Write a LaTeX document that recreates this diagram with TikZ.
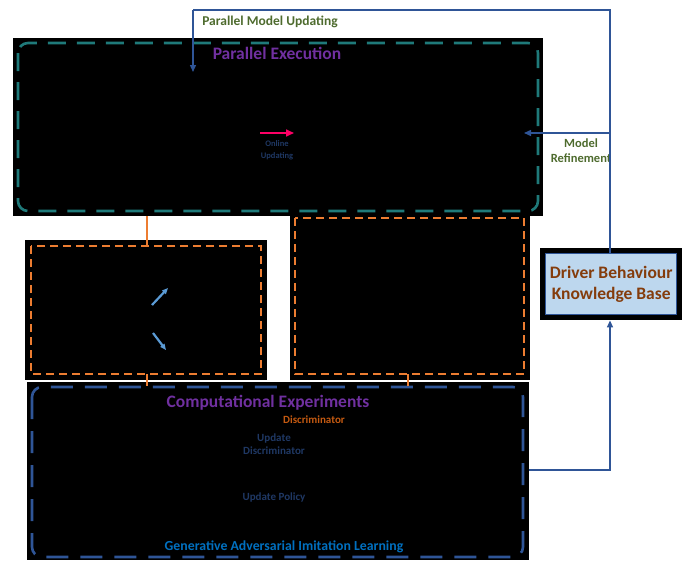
\documentclass[tikz,border=0pt]{standalone}
\usepackage{fontspec}
\setmainfont{Carlito}
\usetikzlibrary{arrows.meta}
\definecolor{tealc}{HTML}{1F7A7A}
\definecolor{orangec}{HTML}{ED7D31}
\definecolor{bluec}{HTML}{2F5597}
\definecolor{greenc}{HTML}{4E6B2E}
\definecolor{purplec}{HTML}{7030A0}
\definecolor{navyc}{HTML}{1F3864}
\definecolor{brownc}{HTML}{843C0C}
\definecolor{lblue}{HTML}{BDD7EE}
\definecolor{arrowblue}{HTML}{5B9BD5}
\definecolor{pinkc}{HTML}{FF0066}
\definecolor{darkorange}{HTML}{C55A11}
\definecolor{galblue}{HTML}{0070C0}
\tikzset{
  blackbox/.style={fill=black, draw=none},
  tealdash/.style={draw=tealc, line width=2.6pt, dash pattern=on 18pt off 11pt, rounded corners=10pt},
  orangedash/.style={draw=orangec, line width=1.3pt, dash pattern=on 8pt off 5pt},
  bluedash/.style={draw=bluec, line width=2.6pt, dash pattern=on 22pt off 12pt, rounded corners=10pt},
  flow/.style={draw=bluec, line width=1.4pt, -{Triangle[length=7pt,width=6pt]}},
  flowline/.style={draw=bluec, line width=1.4pt},
  otick/.style={draw=orangec, line width=1.2pt},
  lbl/.style={font=\bfseries, inner sep=0pt, align=center},
}
\begin{document}
\begin{tikzpicture}[x=1pt,y=-1pt]
\useasboundingbox (0,0) rectangle (683,560);
% black boxes
\node[blackbox, minimum width=530pt, minimum height=178pt, anchor=north west, inner sep=0pt] (pebox) at (13,38) {};
\node[blackbox, minimum width=242pt, minimum height=140pt, anchor=north west, inner sep=0pt] (lbox) at (25,240) {};
\node[blackbox, minimum width=240pt, minimum height=164pt, anchor=north west, inner sep=0pt] (rbox) at (290,216) {};
\node[blackbox, minimum width=502pt, minimum height=178pt, anchor=north west, inner sep=0pt] (cebox) at (27,382) {};
% dashed frames
\draw[tealdash] (18,43) rectangle (538,211);
\draw[orangedash] (31,246) rectangle (261,374);
\draw[orangedash] (295,218) rectangle (524,374);
\draw[bluedash] (32,387) rectangle (523,557);
% orange ticks
\coordinate (t1a) at (147,216);
\coordinate (t1b) at (147,246);
\draw[otick] (t1a) -- (t1b);
\coordinate (t2a) at (147,374);
\coordinate (t2b) at (147,386);
\draw[otick] (t2a) -- (t2b);
\coordinate (t3a) at (408,374);
\coordinate (t3b) at (408,386);
\draw[otick] (t3a) -- (t3b);
% driver box
\node[blackbox, minimum width=142pt, minimum height=72pt, anchor=north west, inner sep=0pt] (dbout) at (540,248) {};
\node[fill=lblue, draw=bluec, line width=0.8pt, minimum width=131pt, minimum height=61pt, inner sep=0pt, align=center, text=brownc, font=\fontsize{17.5}{21}\selectfont\bfseries] (kb) at (dbout.center) {Driver Behaviour\\Knowledge Base};
% titles
\node[lbl, text=purplec, font=\fontsize{17.5}{20}\selectfont\bfseries] (pet) at (277,53) {Parallel Execution};
\node[lbl, text=purplec, font=\fontsize{17.5}{20}\selectfont\bfseries] (cet) at (268,403) {Computational Experiments};
\node[lbl, text=darkorange, font=\fontsize{11}{13}\selectfont\bfseries] (disc) at (314,420) {Discriminator};
\node[lbl, text=navyc, font=\fontsize{11}{13}\selectfont\bfseries] (ud) at (274,444) {Update\\Discriminator};
\node[lbl, text=navyc, font=\fontsize{11}{13}\selectfont\bfseries] (up) at (274,497) {Update Policy};
\node[lbl, text=galblue, font=\fontsize{13.8}{16}\selectfont\bfseries] (gail) at (284,547) {Generative Adversarial Imitation Learning};
\node[lbl, text=navyc, font=\fontsize{8.5}{12}\selectfont\bfseries] (ou) at (277,150) {Online\\Updating};
\node[lbl, text=greenc, font=\fontsize{13.5}{15}\selectfont\bfseries] (pmu) at (270,22) {Parallel Model Updating};
\node[lbl, text=greenc, font=\fontsize{12.5}{15}\selectfont\bfseries] (mr) at (581,151) {Model\\Refinement};
% pink arrow
\coordinate (pa1) at (260,133);
\coordinate (pa2) at (294,133);
\draw[pinkc, line width=1.6pt, -{Triangle[length=8pt,width=7pt]}] (pa1) -- (pa2);
% light blue arrows
\coordinate (la1) at (152,305);
\coordinate (la2) at (168,288);
\coordinate (la3) at (153,333);
\coordinate (la4) at (166,350);
\draw[arrowblue, line width=2.2pt, -{Triangle[length=6pt,width=5pt]}] (la1) -- (la2);
\draw[arrowblue, line width=2.2pt, -{Triangle[length=6pt,width=5pt]}] (la3) -- (la4);
% blue flows
\coordinate (topl) at (193,10);
\coordinate (topr) at (610,10);
\coordinate (pmuend) at (193,72);
\coordinate (mrj) at (610,133);
\coordinate (mrend) at (524,133);
\coordinate (cer) at (529,470);
\coordinate (cej) at (610,470);
\draw[flowline] (kb.north -| topr) -- (topr) -- (topl);
\draw[flow] (topl) -- (pmuend);
\draw[flow] (mrj) -- (mrend);
\draw[flow] (cer) -- (cej) -- (cej |- dbout.south);
\end{tikzpicture}
\end{document}
